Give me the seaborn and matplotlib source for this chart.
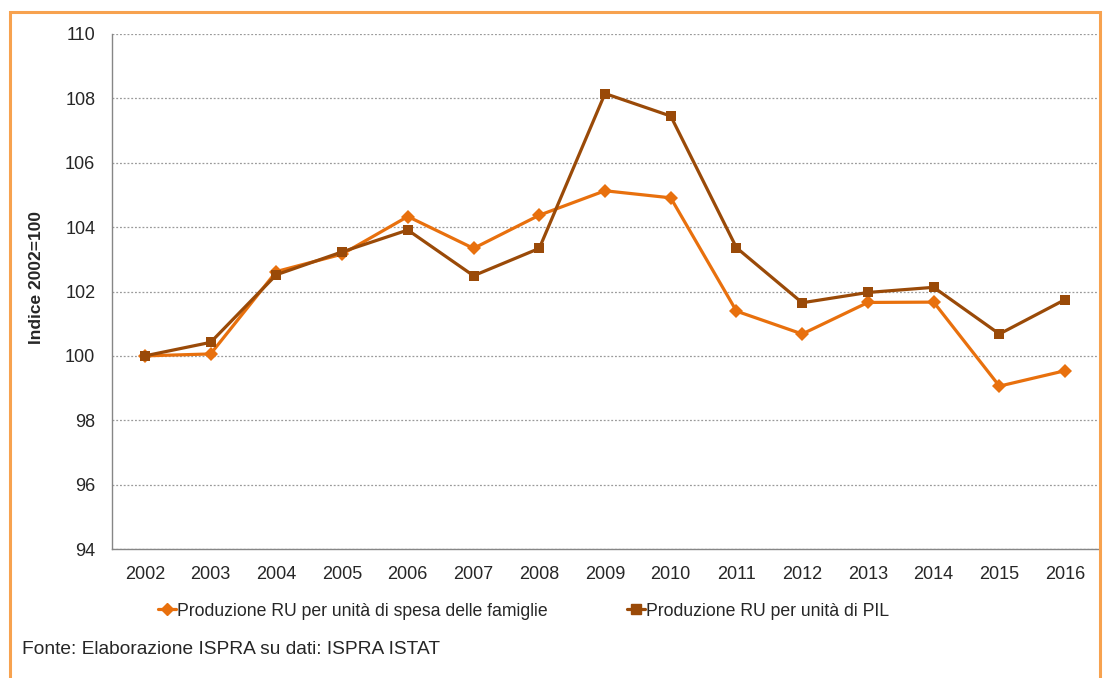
import pandas as pd
import numpy as np
import matplotlib.pyplot as plt
from matplotlib.patches import Rectangle
from matplotlib.lines import Line2D
from matplotlib.ticker import FixedLocator
import seaborn as sns

# Data (Indice 2002=100)
years = ["2002", "2003", "2004", "2005", "2006", "2007", "2008", "2009",
         "2010", "2011", "2012", "2013", "2014", "2015", "2016"]
spesa_famiglie = [100.0, 100.06, 102.62, 103.16, 104.33, 103.34, 104.37, 105.13,
                  104.91, 101.39, 100.68, 101.66, 101.67, 99.06, 99.54]
pil = [100.0, 100.42, 102.52, 103.23, 103.91, 102.49, 103.34, 108.15,
       107.45, 103.36, 101.65, 101.97, 102.13, 100.68, 101.75]

lab_fam = "Produzione RU per unità di spesa delle famiglie"
lab_pil = "Produzione RU per unità di PIL"

df = pd.DataFrame({"anno": years * 2,
                   "valore": spesa_famiglie + pil,
                   "serie": [lab_fam] * len(years) + [lab_pil] * len(years)})

sns.set_style("white")
plt.rcParams["font.family"] = ["Liberation Sans", "DejaVu Sans"]

orange = "#E8700D"
brown = "#9A4A08"

fig = plt.figure(figsize=(11.03, 6.78), dpi=100)
ax = fig.add_axes([112 / 1103, 1 - 549 / 678, (1098 - 112) / 1103, (549 - 34) / 678])

sns.lineplot(data=df, x="anno", y="valore", hue="serie", style="serie",
             palette={lab_fam: orange, lab_pil: brown},
             markers={lab_fam: "D", lab_pil: "s"}, dashes=False,
             linewidth=2.3, markersize=7.5, markeredgewidth=0, ax=ax, legend=False)

ax.set_xlim(-0.5, len(years) - 0.5)
ax.set_ylim(94, 110)
ax.set_yticks(np.arange(94, 111, 2))
ax.yaxis.grid(True, color="#9a9a9a", linestyle=(0, (1.5, 1.5)), linewidth=0.9)
ax.xaxis.grid(False)
ax.set_axisbelow(True)

for s in ["top", "right"]:
    ax.spines[s].set_visible(False)
for s in ["left", "bottom"]:
    ax.spines[s].set_color("#868686")
    ax.spines[s].set_linewidth(1.0)

ax.tick_params(axis="y", which="major", length=6, color="#868686", labelsize=13, pad=6)
ax.tick_params(axis="x", which="major", length=0, labelsize=13, pad=12)
ax.xaxis.set_minor_locator(FixedLocator(np.arange(-0.5, len(years), 1.0)))
ax.tick_params(axis="x", which="minor", length=5, color="#868686")

ax.set_xlabel("")
ax.set_ylabel("Indice 2002=100", fontsize=12.5, fontweight="bold")
ax.yaxis.set_label_coords(-0.069, 0.528)

# legend below the chart, one entry at a time to place them like the original
for lab, col, mk, x0 in [(lab_fam, orange, "D", 158), (lab_pil, brown, "s", 627)]:
    h = Line2D([], [], color=col, marker=mk, markersize=6.5, linewidth=2.3)
    fig.legend([h], [lab], loc="center left", bbox_to_anchor=(x0 / 1103, 1 - 611 / 678),
               frameon=False, fontsize=12.7, handlelength=1.0, handletextpad=0.05,
               borderpad=0, borderaxespad=0)

fig.text(22 / 1103, 1 - 649 / 678, "Fonte: Elaborazione ISPRA su dati: ISPRA ISTAT",
         fontsize=13.8, va="center", ha="left")

# orange frame around the figure
fig.patches.append(Rectangle((10 / 1103, -0.05), (1100 - 10) / 1103, 1 - 12 / 678 + 0.05,
                             transform=fig.transFigure, fill=False,
                             edgecolor="#F7A24F", linewidth=2.2, zorder=0))

fig.savefig("out.png", dpi=100)
